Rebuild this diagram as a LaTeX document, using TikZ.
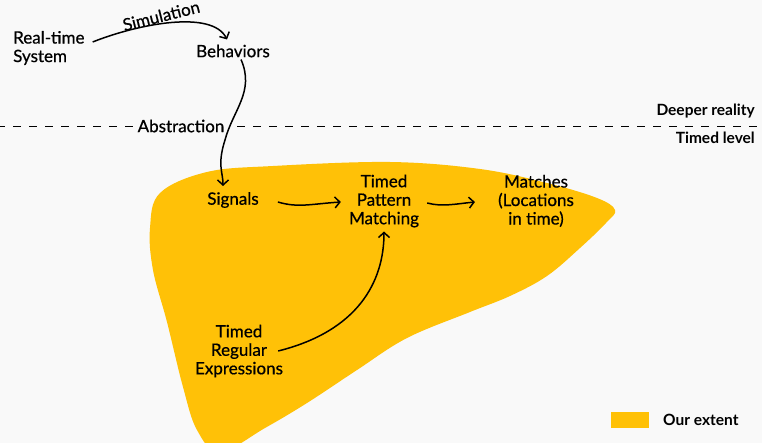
\documentclass[tikz,border=0pt]{standalone}
\usepackage{fontspec}
\setmainfont{Lato}
\newfontfamily\medfont{Lato}[FakeBold=0.6]
\usetikzlibrary{arrows.meta}
\definecolor{bg}{HTML}{F9F9F9}
\definecolor{amber}{HTML}{FFC107}
\begin{document}
\begin{tikzpicture}[x=1pt,y=-1pt,
  lbl/.style={font=\medfont\fontsize{17}{18.5}\selectfont, align=center, inner sep=2pt},
  side/.style={font=\bfseries\fontsize{15.5}{17}\selectfont, inner sep=0pt},
  conn/.style={line width=1.5pt, -{Straight Barb[length=5pt,width=11pt]}},
  dashline/.style={line width=0.9pt, dash pattern=on 8pt off 8pt, dash phase=3pt},
]
\fill[bg] (0,0) rectangle (762,443);
\useasboundingbox (0,0) rectangle (762,443);
\clip (0,0) rectangle (762,443);

% extent blob
\fill[amber] plot[smooth cycle, tension=0.6] coordinates {
  (160,193) (207,172) (273,166) (390,162) (480,169) (547,183) (597,198)
  (615,210) (606,223) (580,248) (547,276) (510,296) (470,312) (407,338)
  (357,370) (307,403) (265,428) (220,452) (197,430) (183,387) (167,322)
  (153,270) (150,228)};

% level separator
\draw[dashline] (0,126) -- (762,126);
\node[lbl, fill=bg, inner sep=5pt] (abs) at (181,126) {Abstraction};
\node[side, anchor=east] (deep) at (755,111) {Deeper reality};
\node[side, anchor=east] (timed) at (755,138) {Timed level};

% nodes
\node[lbl, align=left, anchor=west] (rts) at (11,48) {Real-time\\System};
\node[lbl] (beh) at (233,51) {Behaviors};
\node[lbl] (sig) at (233,200) {Signals};
\node[lbl] (tpm) at (384,201) {Timed\\Pattern\\Matching};
\node[lbl] (mat) at (536,201) {Matches\\(Locations\\in time)};
\node[lbl] (tre) at (239,351) {Timed\\Regular\\Expressions};

% connectors
\draw[conn] ([xshift=6pt,yshift=6pt]rts.east)
  .. controls +(45,-18) and +(-15,-30) .. ([xshift=-6pt,yshift=3pt]beh.north)
  node[pos=0.45, lbl, rotate=14, above=-1pt] (simlbl) {Simulation};
\draw[conn] ([xshift=8pt]beh.south)
  .. controls +(14,32) and +(8,-30) .. (225,140)
  .. controls +(-8,25) and +(0,-14) .. ([xshift=-10pt,yshift=4pt]sig.north);
\draw[conn] ([xshift=17pt,yshift=-2pt]sig.east)
  .. controls +(20,6) and +(-30,2) .. ([xshift=-6pt,yshift=-1pt]tpm.west);
\draw[conn] ([xshift=6pt,yshift=-2pt]tpm.east)
  .. controls +(15,4) and +(-20,2) .. ([xshift=-21pt,yshift=-1pt]mat.west);
\draw[conn] ([xshift=-7pt]tre.east)
  .. controls +(80,-20) and +(0,50) .. ([yshift=-2pt]tpm.south);

% legend
\fill[amber] (611,412) rectangle (649,428);
\node[side, anchor=west] (leg) at (663,420) {Our extent};
\end{tikzpicture}
\end{document}
